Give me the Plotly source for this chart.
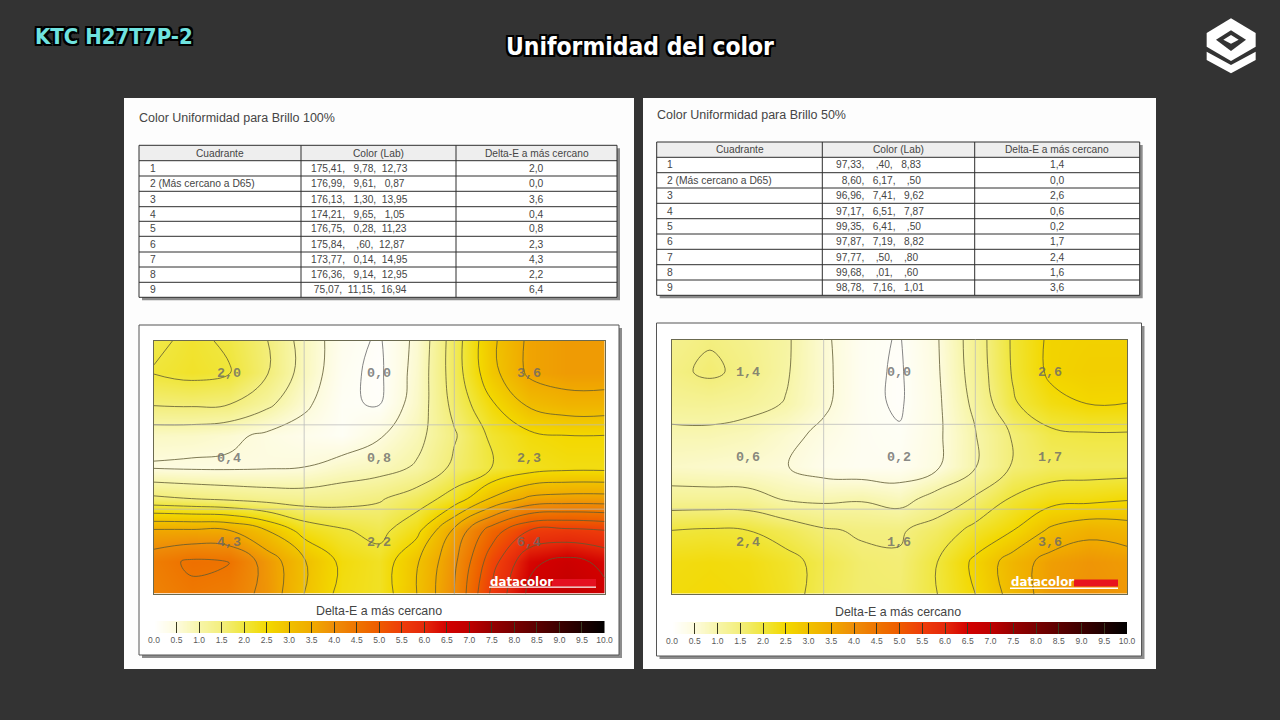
import plotly.graph_objects as go

W, H = 1280, 720

ROW_LABELS = ["1", "2 (Más cercano a D65)", "3", "4", "5", "6", "7", "8", "9"]
TABLE_HEAD = ["Cuadrante", "Color (Lab)", "Delta-E a más cercano"]

LAB_100 = ["175,41,   9,78,  12,73", "176,99,   9,61,   0,87", "176,13,   1,30,  13,95",
           "174,21,   9,65,   1,05", "176,75,   0,28,  11,23", "175,84,    ,60,  12,87",
           "173,77,   0,14,  14,95", "176,36,   9,14,  12,95", " 75,07,  11,15,  16,94"]
DELTA_100 = ["2,0", "0,0", "3,6", "0,4", "0,8", "2,3", "4,3", "2,2", "6,4"]

LAB_50 = ["97,33,    ,40,   8,83", "  8,60,   6,17,    ,50", "96,96,   7,41,   9,62",
          "97,17,   6,51,   7,87", "99,35,   6,41,    ,50", "97,87,   7,19,   8,82",
          "97,77,    ,50,    ,80", "99,68,    ,01,    ,60", "98,78,   7,16,   1,01"]
DELTA_50 = ["1,4", "0,0", "2,6", "0,6", "0,2", "1,7", "2,4", "1,6", "3,6"]

MAP_100 = [
    [1.9, 2.1, 1.93, 1.52, 0.8, 0.25, 0.08, 0.6, 1.75, 2.9, 3.6, 3.75, 3.75],
    [2.03, 2.15, 2.03, 1.55, 0.8, 0.2, 0.05, 0.65, 1.75, 2.85, 3.6, 3.75, 3.75],
    [1.55, 1.58, 1.52, 1.12, 0.6, 0.15, 0.1, 0.7, 1.65, 2.45, 3.1, 3.3, 3.3],
    [0.72, 0.7, 0.6, 0.42, 0.28, 0.15, 0.45, 0.85, 1.45, 2.1, 2.4, 2.5, 2.5],
    [0.45, 0.42, 0.42, 0.45, 0.5, 0.7, 0.8, 1.05, 1.6, 2.0, 2.25, 2.35, 2.35],
    [1.6, 1.5, 1.4, 1.3, 1.25, 1.3, 1.45, 1.75, 2.2, 3.05, 3.6, 3.7, 3.7],
    [3.55, 3.55, 3.5, 3.0, 2.3, 2.05, 1.85, 2.35, 3.6, 4.75, 5.5, 5.6, 5.5],
    [4.3, 4.58, 4.52, 3.8, 3.05, 2.4, 2.2, 2.95, 3.9, 5.3, 6.4, 6.65, 6.4],
    [4.2, 4.4, 4.3, 3.85, 3.0, 2.35, 2.2, 3.0, 4.0, 5.6, 6.6, 6.9, 6.6],
]
MAP_50 = [
    [1.3, 1.46, 1.3, 1.07, 0.58, 0.2, 0.1, 0.47, 1.25, 2.07, 2.6, 2.65, 2.65],
    [1.4, 1.58, 1.38, 1.05, 0.6, 0.2, 0.08, 0.45, 1.22, 2.05, 2.6, 2.7, 2.7],
    [1.2, 1.22, 1.15, 0.98, 0.58, 0.2, 0.08, 0.42, 1.12, 1.95, 2.35, 2.52, 2.5],
    [0.9, 0.9, 0.82, 0.62, 0.4, 0.2, 0.15, 0.42, 0.98, 1.55, 1.9, 1.95, 1.95],
    [0.7, 0.65, 0.6, 0.52, 0.28, 0.2, 0.2, 0.45, 0.98, 1.55, 1.72, 1.75, 1.75],
    [1.2, 1.2, 1.2, 0.95, 0.9, 0.95, 0.8, 1.2, 1.55, 2.05, 2.3, 2.35, 2.45],
    [2.0, 2.05, 2.0, 1.8, 1.55, 1.45, 1.45, 1.7, 2.15, 2.5, 3.1, 3.35, 3.25],
    [2.35, 2.4, 2.35, 2.15, 1.85, 1.6, 1.55, 2.0, 2.6, 3.25, 3.7, 3.85, 3.75],
    [2.4, 2.45, 2.4, 2.2, 1.8, 1.6, 1.6, 2.0, 2.5, 3.2, 3.75, 3.9, 3.8],
]
COLUMNS = list(range(13))
ROWS = list(range(9))

LEGEND_TICKS = [0, .5, 1, 1.5, 2, 2.5, 3, 3.5, 4, 4.5, 5, 5.5, 6, 6.5, 7, 7.5, 8, 8.5, 9, 9.5, 10]
LEGEND_COLORS = ["#ffffff", "#fdfbdc", "#f7f5a8", "#f3ee7c", "#f0e63c", "#f3d800", "#f0c000", "#f0aa00",
                 "#ee8c08", "#ee7400", "#ee5a00", "#ee3c0a", "#e4280a", "#d20000", "#be0000", "#960000",
                 "#780000", "#5a0000", "#3c0000", "#1e0000", "#000000"]
COLORSCALE = [[t / 10, c] for t, c in zip(LEGEND_TICKS, LEGEND_COLORS)]

BG = "#333333"
SANS = "Liberation Sans"
HEAD_FONT = "DejaVu Sans Condensed"
INK = "#454545"


def fx(px):
    return px / W


def fy(py):
    return 1 - py / H


fig = go.Figure()
shapes, notes = [], []


def rect(x0, y0, x1, y1, fill, line=None, lw=1, layer="below"):
    shapes.append(dict(type="rect", xref="paper", yref="paper", x0=fx(x0), x1=fx(x1), y0=fy(y0), y1=fy(y1),
                       fillcolor=fill, line=dict(color=line or "rgba(0,0,0,0)", width=lw if line else 0), layer=layer))


def hline(x0, x1, y, color, lw=1, layer="below"):
    shapes.append(dict(type="line", xref="paper", yref="paper", x0=fx(x0), x1=fx(x1), y0=fy(y), y1=fy(y),
                       line=dict(color=color, width=lw), layer=layer))


def vline(x, y0, y1, color, lw=1, layer="below"):
    shapes.append(dict(type="line", xref="paper", yref="paper", x0=fx(x), x1=fx(x), y0=fy(y0), y1=fy(y1),
                       line=dict(color=color, width=lw), layer=layer))


def text(x, y, s, size, color=INK, anchor="center", family=SANS, **font):
    notes.append(dict(xref="paper", yref="paper", x=fx(x), y=fy(y), text=s, showarrow=False, xanchor=anchor,
                      yanchor="middle", borderpad=0, font=dict(size=size, color=color, family=family, **font)))


def poly(points, fill):
    path = "M" + "L".join(f"{fx(x):.5f},{fy(y):.5f}" for x, y in points) + "Z"
    shapes.append(dict(type="path", xref="paper", yref="paper", path=path, fillcolor=fill, line=dict(width=0),
                       layer="above"))


def table(cols, rows_y, title, title_xy, lab, delta, lab_x):
    text(title_xy[0], title_xy[1], title, 12.5, anchor="left")
    rect(cols[0] + 3, rows_y[0] + 3, cols[-1] + 3, rows_y[-1] + 3, "#8c8c8c")
    rect(cols[0], rows_y[0], cols[-1], rows_y[-1], "#ffffff")
    rect(cols[0], rows_y[0], cols[-1], rows_y[1], "#eeeeee")
    for y in rows_y:
        hline(cols[0], cols[-1], y, "#2e2e2e")
    for x in cols:
        vline(x, rows_y[0], rows_y[-1], "#2e2e2e")
    for i, head in enumerate(TABLE_HEAD):
        text((cols[i] + cols[i + 1]) / 2, (rows_y[0] + rows_y[1]) / 2, head, 10.2)
    for i in range(9):
        y = (rows_y[i + 1] + rows_y[i + 2]) / 2
        text(cols[0] + 9.5, y, ROW_LABELS[i], 10.3, anchor="left")
        text(lab_x, y, lab[i].replace(" ", "\u00a0"), 10.2, anchor="left")
        text((cols[2] + cols[3]) / 2, y, delta[i], 10.3)


def surface(idx, z, box, delta, legend_box, label_x, label_y):
    xa, ya = f"x{idx}", f"y{idx}"
    x0, y0, x1, y1 = box
    fig.add_trace(go.Contour(x=COLUMNS, y=ROWS, z=z, xaxis=xa, yaxis=ya, zmin=0, zmax=10, colorscale=COLORSCALE,
                             showscale=False, autocontour=False, hoverinfo="skip",
                             contours=dict(coloring="heatmap", start=0.5, end=9.5, size=0.5),
                             line=dict(color="rgba(95,90,50,0.8)", width=1, smoothing=1.2)))
    fig.add_trace(go.Contour(x=COLUMNS, y=ROWS, z=z, xaxis=xa, yaxis=ya, hoverinfo="skip", showscale=False,
                             autocontour=False, contours=dict(coloring="none", start=0.12, end=0.12, size=1),
                             line=dict(color="rgba(120,120,120,0.9)", width=1, smoothing=1.2)))
    dom = dict(visible=True, showgrid=False, zeroline=False, showticklabels=False, ticks="", showline=True,
               mirror=True, linecolor="#6b6a50", linewidth=1, fixedrange=True)
    fig.update_layout({f"xaxis{idx}": dict(domain=[fx(x0), fx(x1)], range=[0, 12], anchor=ya, **dom),
                       f"yaxis{idx}": dict(domain=[fy(y1), fy(y0)], range=[8, 0], anchor=xa, **dom)})
    wid, hei = x1 - x0, y1 - y0
    for f in (1 / 3, 2 / 3):
        vline(x0 + wid * f, y0, y1, "rgba(185,185,185,0.75)", layer="above")
        hline(x0, x1, y0 + hei * f, "rgba(185,185,185,0.75)", layer="above")
    for r in range(3):
        for c in range(3):
            text(label_x[c], label_y[r], delta[r * 3 + c], 13.4,
                 color="rgba(105,105,105,0.8)", family="Liberation Mono", weight="bold")
    # legend strip
    lx0, ly0, lx1, ly1 = legend_box
    i2 = idx + 2
    lxa, lya = f"x{i2}", f"y{i2}"
    fig.add_trace(go.Heatmap(x=LEGEND_TICKS, y=[0, 1], z=[LEGEND_TICKS, LEGEND_TICKS], xaxis=lxa, yaxis=lya,
                             colorscale=COLORSCALE, zmin=0, zmax=10, zsmooth="best", showscale=False,
                             hoverinfo="skip"))
    fig.update_layout({
        f"xaxis{i2}": dict(domain=[fx(lx0), fx(lx1)], range=[0, 10], anchor=lya, tickvals=LEGEND_TICKS,
                           ticktext=[f"{v:.1f}" for v in LEGEND_TICKS], ticks="inside", ticklen=11,
                           tickcolor="#3a3a20", tickwidth=1, showgrid=False, zeroline=False, showline=False,
                           tickangle=0, tickfont=dict(size=8.5, color="#5a5a5a", family=SANS), fixedrange=True),
        f"yaxis{i2}": dict(domain=[fy(ly1), fy(ly0)], range=[0, 1], anchor=lxa, visible=False, fixedrange=True)})


# panels
rect(124, 98, 634, 669, "#fdfdfd")
rect(643, 98, 1156, 669, "#fdfdfd")

table([139, 301, 456, 617], [145.3, 160.7, 176, 191.3, 206.7, 221.3, 236.3, 252, 267, 282.3, 297.3],
      "Color Uniformidad para Brillo 100%", (138, 118), LAB_100, DELTA_100, 310)
table([656.7, 822.3, 974.7, 1139.7], [142, 157.3, 172.7, 188, 203.3, 218.7, 234, 249.3, 264.7, 280, 295.3],
      "Color Uniformidad para Brillo 50%", (655.5, 115), LAB_50, DELTA_50, 834.5)

# map frames
rect(142, 328, 622, 658, "#8c8c8c")
rect(139, 325, 619, 655, "#ffffff", "#555555")
rect(659.5, 326, 1144.5, 659, "#8c8c8c")
rect(656.5, 323, 1141.5, 656, "#ffffff", "#555555")

surface(1, MAP_100, (154, 340.5, 604.5, 593.5), DELTA_100, (154, 621, 604.5, 633), (229, 379, 529), (373, 458, 542.5))
surface(2, MAP_50, (672, 339.5, 1127, 594), DELTA_50, (672, 622, 1127, 634), (747.5, 899, 1050), (372.5, 457.5, 542.5))

text(379, 611, "Delta-E a más cercano", 12.4, color="#444444")
text(898, 612, "Delta-E a más cercano", 12.4, color="#444444")

# datacolor marks
text(489, 581.5, "datacolor", 11.8, color="#ffffff", anchor="left", family="DejaVu Sans", weight="bold")
rect(489, 586.5, 596, 587.8, "#ffffff", layer="above")
rect(552, 579, 596, 586, "rgba(235,20,40,0.8)", layer="above")
text(1010, 581.5, "datacolor", 11.8, color="#ffffff", anchor="left", family="DejaVu Sans", weight="bold")
rect(1074, 579.5, 1118, 586.5, "#e8141e", layer="above")
rect(1010, 587.5, 1118, 589, "#ffffff", layer="above")

# headings
OUTLINE = "2px 0 0 #000, -2px 0 0 #000, 0 2px 0 #000, 0 -2px 0 #000, 2px 2px 0 #000, -2px -2px 0 #000, 2px -2px 0 #000, -2px 2px 0 #000"
text(114, 36, "KTC H27T7P-2", 22, color="#6fe3e0", family=HEAD_FONT, weight="bold", shadow=OUTLINE)
text(640, 46, "Uniformidad del color", 24.4, color="#ffffff", family=HEAD_FONT, weight="bold", shadow=OUTLINE)


# logo
def lg(pts):
    return [(1190 + a / 3, 5 + b / 3) for a, b in pts]


poly(lg([(123, 40), (197, 84), (197, 125), (123, 168), (50, 125), (50, 84)]), "#ffffff")
poly(lg([(50, 140), (123, 180), (197, 140), (197, 165), (123, 205), (50, 165)]), "#ffffff")
poly(lg([(78, 104), (123, 76), (168, 104), (123, 138)]), BG)
poly(lg([(100, 104), (123, 90), (146, 104), (123, 116)]), "#ffffff")

fig.update_layout(width=W, height=H, margin=dict(l=0, r=0, t=0, b=0, autoexpand=False), paper_bgcolor=BG,
                  plot_bgcolor="rgba(0,0,0,0)", showlegend=False, shapes=shapes, annotations=notes, hovermode=False)

fig.write_html("out.html", config={"displayModeBar": False},
               post_script="document.body.style.margin='0';document.body.style.background='#333333';")
